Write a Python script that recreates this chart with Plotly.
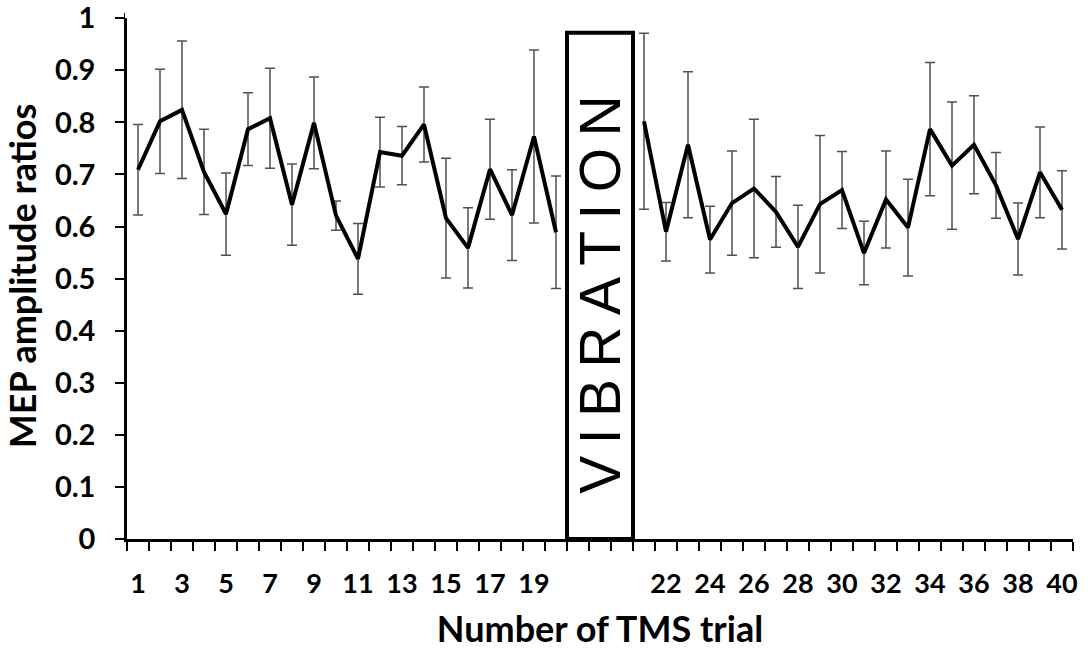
import plotly.graph_objects as go

# MEP amplitude ratios per TMS trial (mean and error)
trials = list(range(1, 41))
means = [0.709, 0.802, 0.824, 0.705, 0.624, 0.787, 0.808, 0.642, 0.799, 0.621,
         0.538, 0.743, 0.736, 0.796, 0.616, 0.559, 0.710, 0.622, 0.773, 0.589,
         0.802, 0.590, 0.757, 0.575, 0.645, 0.673, 0.628, 0.561, 0.643, 0.670,
         0.549, 0.652, 0.598, 0.787, 0.717, 0.757, 0.679, 0.576, 0.704, 0.632]
errors = [0.087, 0.100, 0.132, 0.082, 0.079, 0.070, 0.096, 0.078, 0.088, 0.028,
          0.068, 0.067, 0.056, 0.072, 0.115, 0.077, 0.096, 0.087, 0.166, 0.108,
          0.169, 0.056, 0.140, 0.064, 0.100, 0.133, 0.068, 0.080, 0.132, 0.074,
          0.061, 0.093, 0.093, 0.128, 0.122, 0.094, 0.063, 0.069, 0.087, 0.075]
y_ticks = [0.0, 0.1, 0.2, 0.3, 0.4, 0.5, 0.6, 0.7, 0.8, 0.9, 1.0]
y_tick_text = ["0", "0.1", "0.2", "0.3", "0.4", "0.5", "0.6", "0.7", "0.8", "0.9", "1"]
Y_MAX = 1.01        # a little headroom so the top tick stays inside the range

PRE_TRIALS = 20     # trials recorded before vibration
VIB_SLOTS = 3       # empty category slots reserved for the vibration period
vib_label = "VIBRATION"

# category position of each trial on the x axis
pos = [t - 1 if t <= PRE_TRIALS else t - 1 + VIB_SLOTS for t in trials]
n_slots = len(trials) + VIB_SLOTS

# labels every second slot; empty slots stay unlabeled
label_of = {p: str(t) for p, t in zip(pos, trials)}
tick_positions = list(range(0, n_slots, 2))
tick_text = [label_of.get(p, "") for p in tick_positions]

LABEL_FONT = "Lato"
fig = go.Figure()

segments = [slice(0, PRE_TRIALS), slice(PRE_TRIALS, len(trials))]
for seg in segments:
    fig.add_trace(go.Scatter(
        x=pos[seg], y=means[seg], mode="lines",
        line=dict(color="black", width=4),
        error_y=dict(type="data", array=errors[seg], visible=True,
                     color="#505050", thickness=1.5, width=5),
        showlegend=False, hoverinfo="skip",
    ))

vib_lo = PRE_TRIALS - 0.5
vib_hi = PRE_TRIALS - 0.5 + VIB_SLOTS
fig.add_shape(type="rect", xref="x", yref="y",
              x0=vib_lo, x1=vib_hi, y0=0, y1=0.972,
              line=dict(color="black", width=4), fillcolor="white", layer="above")
fig.add_annotation(x=(vib_lo + vib_hi) / 2, y=0.469, xref="x", yref="y",
                   text="\u2009".join(vib_label), textangle=-90, showarrow=False,
                   font=dict(family="Liberation Sans", size=57, color="black"))

fig.update_layout(
    width=1088, height=650,
    margin=dict(l=127, r=15, t=13, b=111),
    plot_bgcolor="white", paper_bgcolor="white",
    font=dict(family=LABEL_FONT, color="black"),
)
fig.update_xaxes(
    range=[-0.5, n_slots - 0.5], automargin=False,
    tickmode="array", tickvals=tick_positions, ticktext=tick_text,
    ticks="", ticklabelstandoff=19,
    tickfont=dict(family=LABEL_FONT, size=27, weight="bold"),
    showline=True, linecolor="black", linewidth=2.5, showgrid=False, zeroline=False,
    minor=dict(tickmode="array", tickvals=[b - 0.5 for b in range(n_slots + 1)],
               ticks="outside", ticklen=9, tickwidth=2, tickcolor="black", showgrid=False),
    title=dict(text="Number of TMS trial", standoff=22,
               font=dict(family=LABEL_FONT, size=36, weight="bold")),
)
fig.update_yaxes(
    range=[0, Y_MAX], automargin=False, ticklabeloverflow="allow",
    tickmode="array", tickvals=y_ticks, ticktext=y_tick_text,
    ticks="outside", ticklen=9, tickwidth=2, tickcolor="black", ticklabelstandoff=14,
    tickfont=dict(family=LABEL_FONT, size=29, weight="bold"),
    showline=True, linecolor="black", linewidth=2.5, showgrid=False, zeroline=False,
    title=dict(text="MEP amplitude ratios", standoff=8,
               font=dict(family=LABEL_FONT, size=36, weight="bold")),
)
# the axis line stops at 1, as the value scale does
fig.add_shape(type="line", xref="paper", yref="y", x0=0, x1=0, y0=1.0, y1=Y_MAX,
              line=dict(color="white", width=4), layer="above")

fig.write_html("out.html")
